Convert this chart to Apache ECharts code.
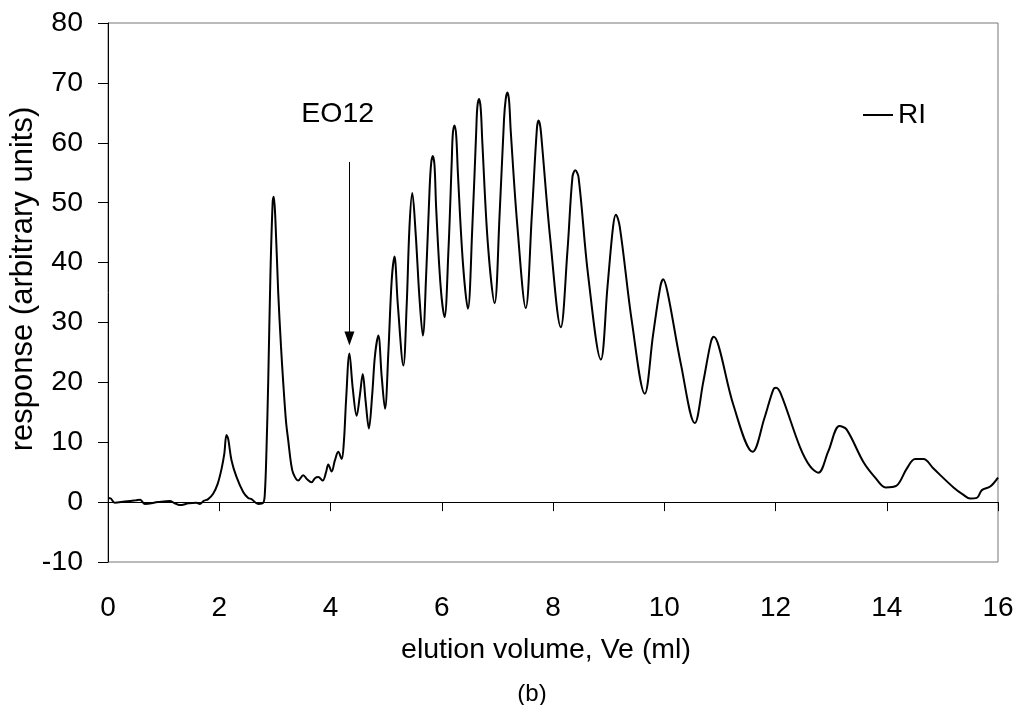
<!DOCTYPE html>
<html>
<head>
<meta charset="utf-8">
<script src="https://cdn.jsdelivr.net/npm/echarts@6/dist/echarts.min.js"></script>
<style>
html,body{margin:0;padding:0;background:#fff;}
#chart{width:1018px;height:705px;}
</style>
</head>
<body>
<div id="chart"></div>
<script>
// elution volume (ml)
var volume = [
0.00,0.05,0.12,0.30,0.50,0.58,0.66,0.90,1.11,1.20,1.29,1.45,1.59,1.65,1.72,1.80,1.89,1.97,2.04,2.09,
2.13,2.16,2.22,2.31,2.43,2.52,2.58,2.70,2.79,2.82,2.85,2.88,2.92,2.96,2.98,3.01,3.06,3.11,3.15,3.20,
3.24,3.29,3.33,3.42,3.51,3.58,3.66,3.72,3.78,3.86,3.92,3.96,4.02,4.08,4.14,4.20,4.24,4.28,4.34,4.40,
4.47,4.53,4.58,4.63,4.69,4.75,4.80,4.86,4.92,4.98,5.04,5.10,5.15,5.21,5.31,5.37,5.42,5.47,5.53,5.60,
5.66,5.72,5.78,5.81,5.84,5.87,5.90,5.98,6.05,6.12,6.18,6.20,6.23,6.26,6.29,6.38,6.47,6.55,6.62,6.64,
6.67,6.70,6.73,6.83,6.95,7.04,7.12,7.15,7.18,7.21,7.24,7.36,7.51,7.62,7.71,7.74,7.77,7.80,7.95,8.14,
8.26,8.35,8.40,8.46,8.63,8.86,8.98,9.08,9.13,9.20,9.42,9.65,9.80,9.93,9.98,10.06,10.30,10.55,10.70,10.84,
10.89,10.98,11.25,11.59,11.80,11.96,12.01,12.10,12.44,12.62,12.77,12.95,13.15,13.28,13.58,13.80,13.98,14.17,14.36,14.51,
14.66,14.84,15.20,15.38,15.50,15.62,15.71,15.86,16.00
];
// RI response (arbitrary units)
var response = [
0.7,0.6,-0.1,0.1,0.3,0.4,-0.3,0.0,0.2,-0.2,-0.5,-0.2,-0.1,-0.3,0.2,0.5,1.4,3.0,5.5,8.0,
11.2,10.6,7.0,4.2,1.7,0.7,0.5,-0.3,-0.1,1.5,9.0,20.0,38,50,51,47,35,26,20,13.5,
10.3,6.5,4.8,3.6,4.5,3.8,3.3,4.0,4.2,3.6,5.0,6.3,5.1,7.0,8.4,7.2,10,17,24.8,19,
14.4,18,21.4,17,12.3,18,24.5,27.8,21,15.6,25,37,41,33,22.8,33,46,51.6,45,34,
27.8,38,52,56.6,57.8,56.2,49,36,30.9,42,57,61.6,62.9,61.2,55,40,32.3,46,62,66,
67.3,65.8,60,43,33.2,48,64,67.3,68.4,67.1,62,46,32.4,48,62.3,63.7,62.8,60,44,29.2,
42,54.3,55.4,54.2,38,23.8,36,46,48,46,30,18.1,28,36,37.2,35,23,13.2,20,26.8,
27.6,26,16,8.4,14,18.8,19.1,18,9.2,6,4.9,8.5,12.7,12.1,6.7,4,2.45,2.7,5.6,7.2,
7.2,5.6,2.45,1.2,0.6,0.7,2.0,2.6,4.1
];
var xTicks = [0,2,4,6,8,10,12,14,16];
var yTicks = [-10,0,10,20,30,40,50,60,70,80];
var seriesName = 'RI';
var xTitle = 'elution volume, Ve (ml)';
var yTitle = 'response (arbitrary units)';
var caption = '(b)';
var annotationText = 'EO12';
var arrowX = 4.34, arrowTop = 56.8, arrowTip = 27.3;
var labelPos = [4.13, 64.8];

var pts = volume.map(function(v,i){return [v, response[i]];});
var FONT = '"Liberation Sans", Arial, sans-serif';

var chart = echarts.init(document.getElementById('chart'));
chart.setOption({
  animation:false,
  backgroundColor:'#fff',
  grid:{left:108,right:20,top:23,bottom:143,show:true,borderColor:'#777',borderWidth:1},
  legend:{
    data:[seriesName], left:858, top:96, padding:5, icon:'rect', itemWidth:30, itemHeight:2,
    textStyle:{fontFamily:FONT,fontSize:28,color:'#000'}
  },
  xAxis:{
    type:'value', min:xTicks[0], max:xTicks[xTicks.length-1], interval:2,
    axisLine:{show:true,lineStyle:{color:'#000',width:1}},
    axisTick:{show:true,inside:false,length:9,lineStyle:{color:'#000'}},
    axisLabel:{margin:32,fontFamily:FONT,fontSize:28,color:'#000'},
    splitLine:{show:false}
  },
  yAxis:{
    type:'value', min:yTicks[0], max:yTicks[yTicks.length-1], interval:10,
    axisLine:{show:true,onZero:false,lineStyle:{color:'#000',width:1}},
    axisTick:{show:true,inside:false,length:10,lineStyle:{color:'#000'}},
    axisLabel:{margin:25,fontFamily:FONT,fontSize:28.5,color:'#000'},
    splitLine:{show:false}
  },
  graphic:[
    {type:'text', x:546, y:650, style:{text:xTitle,font:'28.5px '+FONT,fill:'#000',textAlign:'center',textVerticalAlign:'middle'}},
    {type:'text', x:23, y:279, rotation:Math.PI/2, style:{text:yTitle,font:'31px '+FONT,fill:'#000',textAlign:'center',textVerticalAlign:'middle'}},
    {type:'text', x:532, y:694, style:{text:caption,font:'24px '+FONT,fill:'#000',textAlign:'center',textVerticalAlign:'middle'}}
  ],
  series:[{
    name:seriesName, type:'line', data:pts, showSymbol:false, smooth:0.35,
    lineStyle:{color:'#000',width:2}, itemStyle:{color:'#000'},
    markLine:{
      silent:true, symbol:['none','triangle'], symbolSize:[10,14],
      label:{show:false},
      lineStyle:{color:'#000',width:1,type:'solid'},
      data:[[{coord:[arrowX,arrowTop]},{coord:[arrowX,arrowTip]}]]
    },
    markPoint:{
      silent:true, symbol:'circle', symbolSize:0,
      data:[{coord:labelPos, label:{show:true,formatter:annotationText,position:'inside',fontFamily:FONT,fontSize:28.5,color:'#000'}}]
    }
  }]
});
</script>
</body>
</html>
